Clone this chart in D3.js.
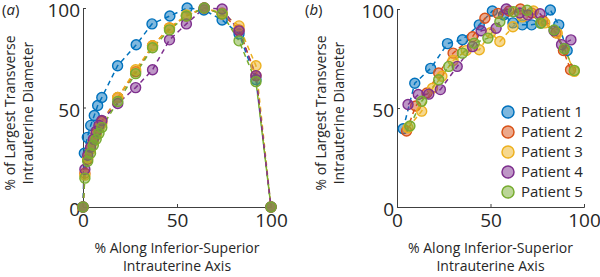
<!DOCTYPE html>
<html>
<head>
<meta charset="utf-8">
<script src="https://cdn.jsdelivr.net/npm/d3@7"></script>
<style>
  body { margin: 0; background: #fff; }
  svg { font-family: "Open Sans", sans-serif; }
</style>
</head>
<body>
<div id="chart"></div>
<script>
/* DATA */
const patients = ["Patient 1", "Patient 2", "Patient 3", "Patient 4", "Patient 5"];
const colors = ["#0072BD", "#D95319", "#EDB120", "#7E2F8E", "#77AC30"];
const ticks = [0, 50, 100];

// panel (a): [x %, y %] per patient
const a1 = [[0,0],[0.7,27],[2.3,35],[4.1,41],[6,46],[7.8,51],[10,55],[18.4,71],[28.3,81.5],[36.7,92],[46.2,96],[55.4,100],[64.3,99],[74,94],[83,87],[92,64],[100,0]];
const a2 = [[0,0],[1,17],[2.5,24],[4,29],[5.5,33],[7,37],[8.5,40],[10,43],[18.5,55],[28,68],[37,81],[46,90],[55,96],[64.5,100],[74,97],[83,89],[92,66],[100,0]];
const a3 = [[0,0],[1,16],[2.5,25],[4,29],[5.5,33],[7,36],[8.5,40],[10,42],[18.5,55],[28,69],[37,81],[46,90],[55,96.5],[64.5,100],[74,97.5],[83,91],[92,71],[100,0]];
const a4 = [[0,0],[1,19],[2.5,26],[4,30],[5.5,34],[7,38],[8.5,41],[10,43.5],[18.5,52],[28,60],[37,69],[46,84],[55,92],[64.5,100],[74,99.5],[83,88.5],[92,66],[100,0]];
const a5 = [[0,0],[1,14.5],[2.5,23],[4,27],[5.5,31],[7,34],[8.5,37],[10,40],[18.5,53],[28,67],[37,80],[46,89],[55,96],[64.5,100],[74,97],[83,83.5],[92,63],[100,0]];

// panel (b)
const b1 = [[3.3,39.5],[9.5,62.5],[18,70],[27,82.5],[35,84.5],[44,92],[51,99],[57,97],[62,93],[67,92],[72,92],[77,93],[82,99.5],[86.5,92],[91,79]];
const b2 = [[5.1,38.4],[10,51],[16,57.6],[22.3,67.7],[30,77.7],[40.4,86],[47,95.3],[54,97.8],[60,99],[66,100],[72,98],[78,94],[85,88],[89,79],[92.8,69.3]];
const b3 = [[5.9,40],[13.2,48.4],[19,60],[24,66],[30,74],[37,79],[44,79.4],[50,88],[55,83.6],[62,91],[67,96],[73,99],[79,93],[85.7,87.8],[94.8,68.5]];
const b4 = [[5.9,51.8],[11.4,56.8],[17,57],[23.2,59.3],[32.2,71],[40.4,81],[45,89],[53,90.3],[58.4,100],[65.6,98],[70,97],[76.5,97.6],[84,89],[88,82],[93,84.4]];
const b5 = [[6.9,40.9],[13.2,53.4],[22.3,64.3],[27.7,71],[35,77.7],[41.3,82.7],[48.6,85.3],[55,93.6],[62.3,98.6],[69.6,99.4],[76.8,92.8],[84,89.4],[89.5,80],[94.8,69]];

const panelA = [a1, a2, a3, a4, a5];
const panelB = [b1, b2, b3, b4, b5];

const width = 600, height = 277;

const svg = d3.select("#chart").append("svg")
  .attr("width", width)
  .attr("height", height);

function drawPanel(series, box, label, withLegend) {
  const x = d3.scaleLinear().domain([0, 100]).range([box.left, box.right]);
  const y = d3.scaleLinear().domain([0, 100]).range([box.bottom, box.top]);

  const g = svg.append("g");

  // axes, ticks pointing inward like matlab
  const xAxis = d3.axisBottom(x).tickValues(ticks).tickSize(-3).tickPadding(7);
  const yAxis = d3.axisLeft(y).tickValues(ticks).tickSize(-3).tickPadding(3);

  const gx = g.append("g").attr("transform", `translate(0,${box.bottom})`).call(xAxis);
  const gy = g.append("g").attr("transform", `translate(${box.left},0)`).call(yAxis);
  [gx, gy].forEach(a => {
    a.select(".domain").attr("stroke", "#404040");
    a.selectAll(".tick line").attr("stroke", "#404040");
    a.selectAll("text")
      .attr("fill", "#262626")
      .style("font-size", "19px")
      .style("font-family", "'Open Sans', sans-serif");
  });
  gy.selectAll("text").attr("dy", "0.45em");

  // lines
  const line = d3.line().x(d => x(d[0])).y(d => y(d[1]));
  series.forEach((s, i) => {
    g.append("path")
      .attr("d", line(s))
      .attr("fill", "none")
      .attr("stroke", colors[i])
      .attr("stroke-width", 1.5)
      .attr("stroke-dasharray", "5,4");
  });

  // markers
  series.forEach((s, i) => {
    g.selectAll(null)
      .data(s)
      .join("circle")
      .attr("cx", d => x(d[0]))
      .attr("cy", d => y(d[1]))
      .attr("r", 5)
      .attr("fill", colors[i])
      .attr("fill-opacity", 0.5)
      .attr("stroke", colors[i])
      .attr("stroke-width", 1.4);
  });

  // axis titles
  const cx = (box.left + box.right) / 2;
  const xt = g.append("text")
    .attr("text-anchor", "middle")
    .attr("fill", "#262626")
    .style("font-size", "14px");
  xt.append("tspan").attr("x", cx).attr("y", 253).text("% Along Inferior-Superior");
  xt.append("tspan").attr("x", cx).attr("y", 271).text("Intrauterine Axis");

  const cy = 113;
  const yt = g.append("text")
    .attr("text-anchor", "middle")
    .attr("fill", "#262626")
    .style("font-size", "14px")
    .attr("transform", `translate(${box.titleX},${cy}) rotate(-90)`);
  yt.append("tspan").attr("x", 0).attr("y", 0).text("% of Largest Transverse");
  yt.append("tspan").attr("x", 0).attr("y", 18).text("Intrauterine Diameter");

  // panel label
  const pl = g.append("text")
    .attr("x", box.labelX)
    .attr("y", 15)
    .attr("fill", "#262626")
    .style("font-size", "15px");
  pl.append("tspan").text("(");
  pl.append("tspan").style("font-style", "italic").text(label);
  pl.append("tspan").text(")");

  if (withLegend) {
    const lg = g.append("g");
    patients.forEach((p, i) => {
      const yy = 112 + i * 20;
      lg.append("circle")
        .attr("cx", 508).attr("cy", yy).attr("r", 6)
        .attr("fill", colors[i]).attr("fill-opacity", 0.5)
        .attr("stroke", colors[i]).attr("stroke-width", 1.5);
      lg.append("text")
        .attr("x", 521).attr("y", yy).attr("dy", "0.36em")
        .attr("fill", "#262626")
        .style("font-size", "15px")
        .text(p);
    });
  }
}

drawPanel(panelA, {left: 83, right: 271, top: 8, bottom: 207, titleX: 15, labelX: 2}, "a", false);
drawPanel(panelB, {left: 397, right: 584, top: 9, bottom: 207, titleX: 326, labelX: 305}, "b", true);
</script>
</body>
</html>
